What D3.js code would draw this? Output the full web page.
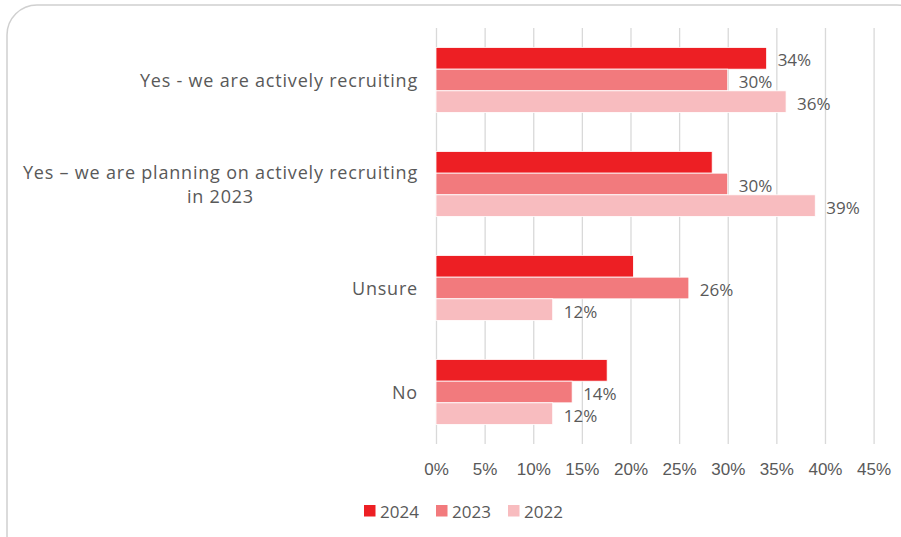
<!DOCTYPE html>
<html>
<head>
<meta charset="utf-8">
<script src="https://cdn.jsdelivr.net/npm/d3@7"></script>
<style>
  html, body { margin: 0; padding: 0; background: #fff; }
  svg { display: block; font-family: "Century Gothic", "URW Gothic", "Open Sans", sans-serif; }
</style>
</head>
<body>
<svg id="chart" width="901" height="537"></svg>
<script>
// Survey answers (top to bottom)
const categories = [
  "Yes - we are actively recruiting",
  "Yes \u2013 we are planning on actively recruiting in 2023",
  "Unsure",
  "No"
];
const seriesNames = ["2024", "2023", "2022"];
const seriesColors = ["#ED1F24", "#F27A7D", "#F8BCBF"];

// Share of respondents (%) per year, in category order
const values2024 = [34, 28.4, 20.3, 17.6];
const values2023 = [30, 30, 26, 14];
const values2022 = [36, 39, 12, 12];
// Which bars carry a value label
const labelled2024 = [true, false, false, false];
const labelled2023 = [true, true, true, true];
const labelled2022 = [true, true, true, true];

const xTicks = [0, 5, 10, 15, 20, 25, 30, 35, 40, 45];

const series = [
  { name: seriesNames[0], color: seriesColors[0], values: values2024, labelled: labelled2024 },
  { name: seriesNames[1], color: seriesColors[1], values: values2023, labelled: labelled2023 },
  { name: seriesNames[2], color: seriesColors[2], values: values2022, labelled: labelled2022 }
];

const svg = d3.select("#chart");
const textColor = "#595959";
const gridColor = "#D9D9D9";
const catFont = "18px";
const catSpacing = "0.8px";
const smallFont = "17px";

// Rounded outer frame
svg.append("rect")
  .attr("x", 7).attr("y", 5)
  .attr("width", 920).attr("height", 560)
  .attr("rx", 30).attr("ry", 30)
  .attr("fill", "none")
  .attr("stroke", "#D0D0D0")
  .attr("stroke-width", 1.5);

const plot = { left: 436, right: 873.6, top: 28, bottom: 444 };

const x = d3.scaleLinear().domain([0, 45]).range([plot.left, plot.right]);
const y = d3.scaleBand().domain(categories)
  .range([plot.top, plot.bottom])
  .paddingInner(0.375).paddingOuter(0.1875);
const ySub = d3.scaleBand().domain(seriesNames).range([0, y.bandwidth()]);

// Vertical gridlines and percent ticks
const xAxis = d3.axisBottom(x)
  .tickValues(xTicks)
  .tickFormat(d => d + "%")
  .tickSize(-(plot.bottom - plot.top))
  .tickPadding(19);

const gx = svg.append("g")
  .attr("transform", `translate(0,${plot.bottom})`)
  .call(xAxis);
gx.select(".domain").remove();
gx.selectAll(".tick line").attr("stroke", gridColor).attr("stroke-width", 1.3);
gx.selectAll(".tick text")
  .attr("fill", textColor)
  .style("font-size", smallFont);

// Bars
const groups = svg.append("g").selectAll("g")
  .data(categories)
  .join("g")
  .attr("transform", d => `translate(0,${y(d)})`);

series.forEach(s => {
  groups.append("rect")
    .attr("x", x(0))
    .attr("y", ySub(s.name))
    .attr("width", (d, i) => x(s.values[i]) - x(0))
    .attr("height", ySub.bandwidth())
    .attr("fill", s.color)
    .attr("stroke", "#fff")
    .attr("stroke-width", 0.8);

  groups.filter((d, i) => s.labelled[i])
    .append("text")
    .attr("x", (d) => x(s.values[categories.indexOf(d)]) + 11)
    .attr("y", ySub(s.name) + ySub.bandwidth() / 2 + 1.5)
    .attr("dominant-baseline", "central")
    .attr("fill", textColor)
    .style("font-size", smallFont)
    .text(d => Math.round(s.values[categories.indexOf(d)]) + "%");
});

// Category labels, wrapped and centred as a block that sits right-aligned
const labelRight = 418;
const maxLabelWidth = 415;
const lineHeight = 24.5;
const catLabels = svg.append("g");
function catText(sel) {
  return sel.style("font-size", catFont).style("letter-spacing", catSpacing);
}
categories.forEach(cat => {
  const words = cat.split(" ");
  const probe = catText(catLabels.append("text"));
  const lines = [];
  let line = [];
  words.forEach(w => {
    line.push(w);
    probe.text(line.join(" "));
    if (probe.node().getComputedTextLength() > maxLabelWidth && line.length > 1) {
      line.pop();
      lines.push(line.join(" "));
      line = [w];
    }
  });
  lines.push(line.join(" "));

  const widths = lines.map(l => {
    probe.text(l);
    return probe.node().getComputedTextLength();
  });
  probe.remove();
  const blockW = d3.max(widths);
  const cx = labelRight - blockW / 2;
  const cy = y(cat) + y.bandwidth() / 2;
  const y0 = cy - (lines.length - 1) * lineHeight / 2;

  const label = catText(catLabels.append("text"))
    .attr("text-anchor", "middle")
    .attr("dominant-baseline", "central")
    .attr("fill", textColor);
  lines.forEach((l, i) => {
    label.append("tspan")
      .attr("x", cx)
      .attr("y", y0 + i * lineHeight)
      .attr("dominant-baseline", "central")
      .text(l);
  });
});

// Legend
const legend = svg.append("g").attr("transform", "translate(364,505)");
const item = legend.selectAll("g")
  .data(series)
  .join("g")
  .attr("transform", (d, i) => `translate(${i * 72},0)`);
item.append("rect")
  .attr("width", 11.5).attr("height", 11.5)
  .attr("fill", d => d.color);
item.append("text")
  .attr("x", 16).attr("y", 6)
  .attr("dominant-baseline", "central")
  .attr("fill", textColor)
  .style("font-size", smallFont)
  .text(d => d.name);
</script>
</body>
</html>
